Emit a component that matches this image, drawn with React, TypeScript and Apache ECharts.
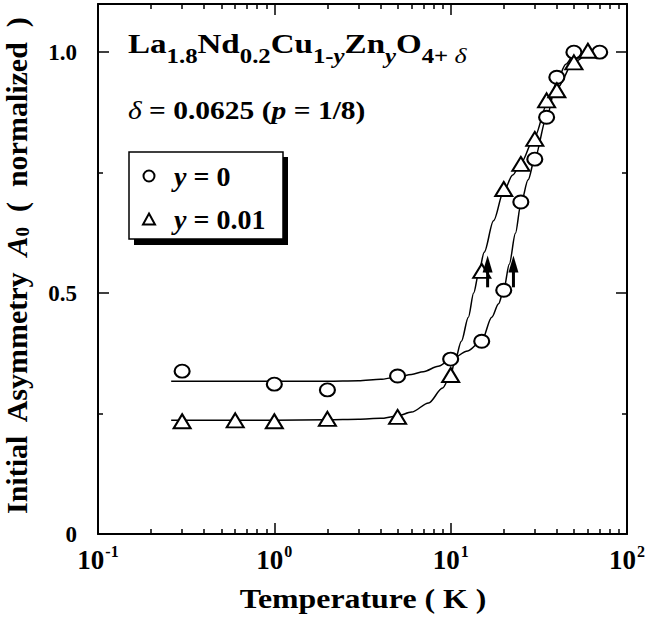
import React, { useEffect, useRef } from 'react';
import * as echarts from 'echarts';

// Measured data: y = 0 (circles)
const tempY0 = [0.3, 1, 2, 5, 10, 15, 20, 25, 30, 35, 40, 50, 70];
const asymY0 = [0.338, 0.311, 0.299, 0.328, 0.363, 0.4, 0.506, 0.689, 0.778, 0.865, 0.948, 1.0, 1.0];

// Measured data: y = 0.01 (triangles)
const tempY001 = [0.3, 0.6, 1, 2, 5, 10, 15, 20, 25, 30, 35, 40, 50, 60];
const asymY001 = [0.234, 0.236, 0.234, 0.239, 0.243, 0.33, 0.546, 0.716, 0.768, 0.82, 0.9, 0.921, 0.979, 1.003];

// Guide curves
const fitTempY0 = [0.26, 0.5, 1, 2, 3, 4, 5, 6, 7, 8.5, 10, 12.5, 15, 17.1, 18.7, 20, 21.5, 23.3, 25, 27.5, 30, 35, 40, 45, 50, 60, 70];
const fitAsymY0 = [0.317, 0.317, 0.317, 0.317, 0.318, 0.321, 0.326, 0.331, 0.337, 0.348, 0.362, 0.38, 0.401, 0.45, 0.478, 0.507, 0.56, 0.624, 0.685, 0.735, 0.78, 0.865, 0.94, 0.975, 0.995, 1.0, 1.0];
const fitTempY001 = [0.26, 0.5, 1, 2, 3, 4, 5, 6, 7.5, 9, 10, 10.5, 11.5, 12.6, 13.5, 14.4, 15.5, 17.5, 20, 22.5, 25, 30, 35, 40, 50, 60];
const fitAsymY001 = [0.236, 0.236, 0.236, 0.237, 0.238, 0.24, 0.245, 0.253, 0.272, 0.303, 0.33, 0.355, 0.4, 0.45, 0.5, 0.54, 0.585, 0.65, 0.712, 0.745, 0.77, 0.825, 0.89, 0.925, 0.98, 1.0];

// Arrows (temperature, base, tip)
const arrowTemps = [16.2, 22.7];
const arrowBase = [0.512, 0.512];
const arrowTip = [0.578, 0.578];

// Axis ticks
const xMajorTicks = [0.1, 1, 10, 100];
const xTickExponents = ['-1', '0', '1', '2'];
const xMinorTicks = [0.2, 0.3, 0.4, 0.5, 0.6, 0.7, 0.8, 0.9, 2, 3, 4, 5, 6, 7, 8, 9, 20, 30, 40, 50, 60, 70, 80, 90];
const yTickValues = [0, 0.5, 1];
const yTickLabels = ['0', '0.5', '1.0'];

const F = 'Liberation Serif';
const SX = 1.18;
const CIRCLE = 'path://M0,50A50,50,0,1,1,100,50A50,50,0,1,1,0,50Z';

const zip = (a: number[], b: number[]) => a.map((v, i) => [v, b[i]]);

export default function App() {
  const ref = useRef<HTMLDivElement>(null);
  useEffect(() => {
    document.body.style.margin = '0';
    if (!ref.current) return;
    const chart = echarts.init(ref.current, undefined, { renderer: 'svg' });
    const axisLine = { show: true, onZero: false, lineStyle: { color: '#000', width: 2 } };
    const majorTick = { show: true, inside: true, length: 11, lineStyle: { color: '#000', width: 1.5 } };
    const minorTickAxis = (pos: 'top' | 'bottom') => ({
      type: 'value', min: -1, max: 2, position: pos, gridIndex: 0,
      axisLine: { show: false, onZero: false },
      axisTick: { show: true, inside: true, length: 5, customValues: xMinorTicks.map((t) => Math.log10(t)), lineStyle: { color: '#000', width: 1.5 } },
      axisLabel: { show: false },
      splitLine: { show: false },
    });
    const yAxisBase = (pos: 'left' | 'right', labels: boolean) => ({
      type: 'value', min: 0, max: 1.1, interval: 0.5, position: pos,
      axisLine,
      axisTick: majorTick,
      minorTick: { show: true, splitNumber: 2, length: 5, lineStyle: { color: '#000', width: 1.5 } },
      splitLine: { show: false },
      minorSplitLine: { show: false },
      axisLabel: {
        show: labels, margin: 21, color: '#000', fontFamily: F, fontSize: 23, fontWeight: 'bold',
        formatter: (v: number) => {
          const i = yTickValues.findIndex((t) => Math.abs(t - v) < 1e-9);
          return i >= 0 ? yTickLabels[i] : '';
        },
      },
    });
    const option: any = {
      animation: false,
      backgroundColor: '#fff',
      grid: { left: 98, right: 19, top: 4, bottom: 85 },
      legend: {
        data: ['y = 0', 'y = 0.01'],
        orient: 'vertical', left: 142, top: 162, itemGap: 15, itemWidth: 12, itemHeight: 11,
        padding: 0, selectedMode: false, z: 5,
        formatter: (name: string) => (name === 'y = 0' ? '{i|y}{t| = 0}' : '{i|y}{t| = 0.01}'),
        textStyle: {
          color: '#000', fontFamily: F, fontSize: 28, fontWeight: 'bold', padding: [0, 0, 0, 14],
          rich: {
            i: { fontFamily: F, fontSize: 28, fontWeight: 'bold', fontStyle: 'italic', color: '#000' },
            t: { fontFamily: F, fontSize: 28, fontWeight: 'bold', color: '#000' },
          },
        },
      },
      xAxis: [
        {
          type: 'log', logBase: 10, min: 0.1, max: 100, position: 'bottom',
          axisLine, axisTick: majorTick, splitLine: { show: false },
          axisLabel: {
            margin: 9, color: '#000',
            formatter: (v: number) => {
              const i = xMajorTicks.findIndex((t) => Math.abs(t - v) < 1e-6 * t);
              return i >= 0 ? '{b|10}{p|' + xTickExponents[i] + '}' : '';
            },
            rich: {
              b: { fontFamily: F, fontSize: 27, fontWeight: 'bold', color: '#000' },
              p: { fontFamily: F, fontSize: 16, fontWeight: 'bold', color: '#000', padding: [0, 0, 18, 1] },
            },
          },
        },
        minorTickAxis('bottom'),
        {
          type: 'log', logBase: 10, min: 0.1, max: 100, position: 'top',
          axisLine, axisTick: majorTick, splitLine: { show: false }, axisLabel: { show: false },
        },
        minorTickAxis('top'),
      ],
      yAxis: [yAxisBase('left', true), yAxisBase('right', false)],
      series: [
        {
          name: 'fit0', type: 'line', xAxisIndex: 0, yAxisIndex: 0, data: zip(fitTempY0, fitAsymY0),
          smooth: 0.3, smoothMonotone: 'x', symbol: 'none', silent: true, z: 2,
          lineStyle: { color: '#000', width: 1.5 },
        },
        {
          name: 'fit1', type: 'line', xAxisIndex: 0, yAxisIndex: 0, data: zip(fitTempY001, fitAsymY001),
          smooth: 0.3, smoothMonotone: 'x', symbol: 'none', silent: true, z: 2,
          lineStyle: { color: '#000', width: 1.5 },
        },
        {
          name: 'y = 0', type: 'scatter', xAxisIndex: 0, yAxisIndex: 0, data: zip(tempY0, asymY0),
          symbol: CIRCLE, symbolSize: [15, 13], z: 4,
          itemStyle: { color: '#fff', borderColor: '#000', borderWidth: 2, opacity: 1 },
        },
        {
          name: 'y = 0.01', type: 'scatter', xAxisIndex: 0, yAxisIndex: 0, data: zip(tempY001, asymY001),
          symbol: 'triangle', symbolSize: [17, 14], z: 4,
          itemStyle: { color: '#fff', borderColor: '#000', borderWidth: 2, opacity: 1 },
        },
        {
          name: 'arrows', type: 'custom', xAxisIndex: 0, yAxisIndex: 0, z: 5, silent: true,
          data: arrowTemps.map((t, i) => [t, arrowBase[i], arrowTip[i]]),
          encode: { x: 0, y: [1, 2] },
          renderItem: (params: any, api: any) => {
            const base = api.coord([api.value(0), api.value(1)]);
            const tip = api.coord([api.value(0), api.value(2)]);
            const headH = 17;
            const headW = 10;
            return {
              type: 'group',
              children: [
                { type: 'line', shape: { x1: base[0], y1: base[1], x2: tip[0], y2: tip[1] + headH - 1 }, style: { stroke: '#000', lineWidth: 3 } },
                { type: 'polygon', shape: { points: [[tip[0], tip[1]], [tip[0] - headW / 2, tip[1] + headH], [tip[0] + headW / 2, tip[1] + headH]] }, style: { fill: '#000' } },
              ],
            };
          },
        },
      ],
      graphic: {
        elements: [
          { type: 'rect', z: 1, shape: { x: 134, y: 157, width: 154, height: 88 }, style: { fill: '#000' } },
          { type: 'rect', z: 1, shape: { x: 129, y: 152, width: 154, height: 87 }, style: { fill: '#fff', stroke: '#000', lineWidth: 1.5 } },
          {
            type: 'text', x: 128, y: 44, scaleX: SX, z: 10,
            style: {
              text: '{m|La}{s|1.8}{m|Nd}{s|0.2}{m|Cu}{s|1-}{si|y}{m|Zn}{si|y}{m|O}{s|4+ }{sd|δ}',
              align: 'left', verticalAlign: 'middle', fill: '#000',
              rich: {
                m: { fontFamily: F, fontSize: 28, fontWeight: 'bold', fill: '#000' },
                s: { fontFamily: F, fontSize: 21, fontWeight: 'bold', fill: '#000', padding: [24, 0, 0, 0] },
                si: { fontFamily: F, fontSize: 21, fontWeight: 'bold', fontStyle: 'italic', fill: '#000', padding: [24, 0, 0, 0] },
                sd: { fontFamily: F, fontSize: 22, fontStyle: 'italic', fill: '#000', padding: [24, 0, 0, 0] },
              },
            },
          },
          {
            type: 'text', x: 128, y: 111, scaleX: SX, z: 10,
            style: {
              text: '{d|δ}{t| = 0.0625 (}{i|p}{t| = 1/8)}',
              align: 'left', verticalAlign: 'middle', fill: '#000',
              rich: {
                d: { fontFamily: F, fontSize: 25, fontStyle: 'italic', fill: '#000' },
                t: { fontFamily: F, fontSize: 25, fontWeight: 'bold', fill: '#000' },
                i: { fontFamily: F, fontSize: 25, fontWeight: 'bold', fontStyle: 'italic', fill: '#000' },
              },
            },
          },
          {
            type: 'text', x: 363, y: 599, scaleX: SX, z: 10,
            style: {
              text: 'Temperature ( K )', align: 'center', verticalAlign: 'middle', fill: '#000',
              fontFamily: F, fontSize: 27, fontWeight: 'bold',
            },
          },
          {
            type: 'text', x: 16, y: 266, rotation: Math.PI / 2, z: 10,
            style: {
              text: '{t|Initial  Asymmetry  }{i|A}{s|0}{t|  (  normalized  )}',
              align: 'center', verticalAlign: 'middle', fill: '#000',
              rich: {
                t: { fontFamily: F, fontSize: 30, lineHeight: 30, fontWeight: 'bold', fill: '#000' },
                i: { fontFamily: F, fontSize: 30, lineHeight: 30, fontWeight: 'bold', fontStyle: 'italic', fill: '#000' },
                s: { fontFamily: F, fontSize: 19, lineHeight: 16, fontWeight: 'bold', fill: '#000', padding: [13, 0, 0, 0] },
              },
            },
          },
        ],
      },
    };
    chart.setOption(option);
    return () => chart.dispose();
  }, []);
  return <div ref={ref} style={{ width: 648, height: 619 }} />;
}
